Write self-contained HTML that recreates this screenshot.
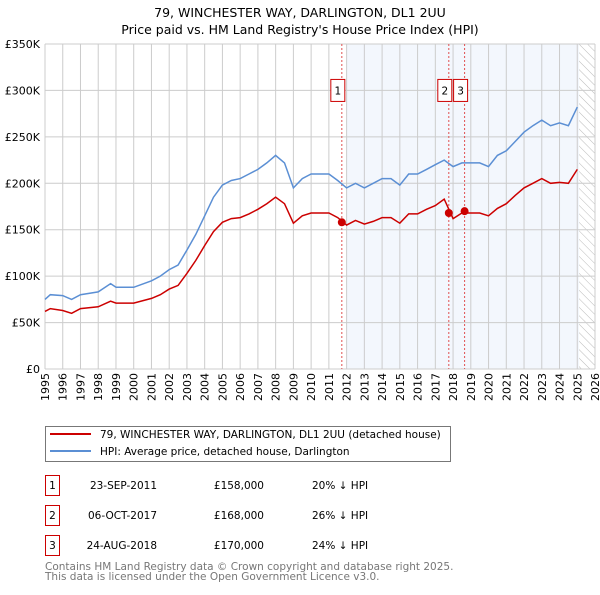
<!DOCTYPE html>
<html><head><meta charset="utf-8"><style>
body{margin:0;background:#fff;font-family:"Liberation Sans","DejaVu Sans",sans-serif;}
</style></head><body>
<svg width="600" height="590" xmlns="http://www.w3.org/2000/svg" font-family="DejaVu Sans, Liberation Sans, sans-serif">
<text x="300" y="17" text-anchor="middle" font-size="12.5">79, WINCHESTER WAY, DARLINGTON, DL1 2UU</text>
<text x="300" y="34" text-anchor="middle" font-size="12.5">Price paid vs. HM Land Registry's House Price Index (HPI)</text>
<defs><pattern id="hatch" width="6" height="6" patternUnits="userSpaceOnUse" patternTransform="rotate(-45)"><line x1="0" y1="0" x2="0" y2="6" stroke="#bbb" stroke-width="1"/></pattern></defs>
<g id="plot"></g>
<g>
<rect x="45.5" y="426.5" width="405" height="35" fill="#fff" stroke="#777"/>
<line x1="50" y1="434" x2="91" y2="434" stroke="#cc0000" stroke-width="2"/>
<text x="100" y="438" font-size="10.5">79, WINCHESTER WAY, DARLINGTON, DL1 2UU (detached house)</text>
<line x1="50" y1="451" x2="91" y2="451" stroke="#5b8fd4" stroke-width="2"/>
<text x="100" y="455" font-size="10.5">HPI: Average price, detached house, Darlington</text>
</g>
<g font-size="10.5">
<rect x="45.5" y="475.5" width="14" height="20" fill="#fff" stroke="#cc0000"/><text x="52.5" y="489" text-anchor="middle">1</text>
<text x="157" y="489" text-anchor="end">23-SEP-2011</text><text x="264" y="489" text-anchor="end">£158,000</text><text x="312" y="489">20% ↓ HPI</text>
<rect x="45.5" y="505.5" width="14" height="20" fill="#fff" stroke="#cc0000"/><text x="52.5" y="519" text-anchor="middle">2</text>
<text x="157" y="519" text-anchor="end">06-OCT-2017</text><text x="264" y="519" text-anchor="end">£168,000</text><text x="312" y="519">26% ↓ HPI</text>
<rect x="45.5" y="535.5" width="14" height="20" fill="#fff" stroke="#cc0000"/><text x="52.5" y="549" text-anchor="middle">3</text>
<text x="157" y="549" text-anchor="end">24-AUG-2018</text><text x="264" y="549" text-anchor="end">£170,000</text><text x="312" y="549">24% ↓ HPI</text>
</g>
<text x="45" y="570" font-size="10.5" fill="#777">Contains HM Land Registry data © Crown copyright and database right 2025.</text>
<text x="45" y="580" font-size="10.5" fill="#777">This data is licensed under the Open Government Licence v3.0.</text>
</svg>
<script>
const years=[1995,1995.3,1996,1996.5,1997,1998,1998.7,1999,2000,2001,2001.5,2002,2002.5,2003,2003.5,2004,2004.5,2005,2005.5,2006,2006.5,2007,2007.5,2008,2008.5,2009,2009.5,2010,2010.5,2011,2011.5,2012,2012.5,2013,2013.5,2014,2014.5,2015,2015.5,2016,2016.5,2017,2017.5,2018,2018.5,2019,2019.5,2020,2020.5,2021,2021.5,2022,2022.5,2023,2023.5,2024,2024.5,2025];
const hpiValues=[75,80,79,75,80,83,92,88,88,95,100,107,112,128,145,165,185,198,203,205,210,215,222,230,222,195,205,210,210,210,203,195,200,195,200,205,205,198,210,210,215,220,225,218,222,222,222,218,230,235,245,255,262,268,262,265,262,282];
const priceValues=[62,65,63,60,65,67,73,71,71,76,80,86,90,103,117,133,148,158,162,163,167,172,178,185,178,157,165,168,168,168,163,155,160,156,159,163,163,157,167,167,172,176,183,162,168,168,168,165,173,178,187,195,200,205,200,201,200,215];
const saleYears=[2011.73,2017.76,2018.65];
const salePrices=[158,168,170];
const saleLabels=["1","2","3"];
const yTicks=[0,50,100,150,200,250,300,350];
const yTickLabels=["£0","£50K","£100K","£150K","£200K","£250K","£300K","£350K"];
const x0=45,x1=595,yr0=1995,yr1=2026,yb=369,yt=44;
const X=y=>x0+(y-yr0)/(yr1-yr0)*(x1-x0);
const Y=v=>yb-v/350*(yb-yt);
const ns="http://www.w3.org/2000/svg",g=document.getElementById('plot');
function mk(t,a,p){const e=document.createElementNS(ns,t);for(const k in a)e.setAttribute(k,a[k]);(p||g).appendChild(e);return e;}
let e;
e=mk('rect',{x:X(2012),y:yt,width:X(2025.1)-X(2012),height:yb-yt,fill:'#eef3fc',opacity:0.7});


e=mk('rect',{x:X(2025.1),y:yt,width:X(2026)-X(2025.1),height:yb-yt,fill:'url(#hatch)'});


for(let y=yr0;y<=yr1;y++){
 e=mk('line',{x1:X(y),y1:yt,x2:X(y),y2:yb,stroke:'#ccc','stroke-width':1});
 
 
 e=mk('text',{x:0,y:0,'font-size':11,'text-anchor':'end',transform:`translate(${X(y)+4},${yb+4}) rotate(-90)`});
 e.textContent=y;
 
 
}
yTicks.forEach((v,i)=>{
 e=mk('line',{x1:x0,y1:Y(v),x2:x1,y2:Y(v),stroke:'#ccc','stroke-width':1});
 
 
 e=mk('text',{x:x0-5,y:Y(v)+4,'font-size':11,'text-anchor':'end'});
 e.textContent=yTickLabels[i];
 
 
});
saleYears.forEach((sy,i)=>{
 e=mk('line',{x1:X(sy),y1:yt,x2:X(sy),y2:yb,stroke:'#e05050','stroke-width':1,'stroke-dasharray':'2,2'});
 
 
});
function path(vals,col,name){
 const d=years.map((y,i)=>(i?'L':'M')+X(y).toFixed(1)+','+Y(vals[i]).toFixed(1)).join('');
 e=mk('path',{d:d,fill:'none',stroke:col,'stroke-width':1.5});
 
 
}
path(hpiValues,'#5b8fd4','hpi-line');
path(priceValues,'#cc0000','price-paid-line');
saleYears.forEach((sy,i)=>{
 e=mk('circle',{cx:X(sy),cy:Y(salePrices[i]),r:4,fill:'#cc0000'});
 
 
 const lx=X(sy)-11;
 e=mk('rect',{x:lx,y:Y(300)-11,width:14,height:22,fill:'#fff',stroke:'#cc0000'});
 
 
 e=mk('text',{x:lx+7,y:Y(300)+4,'font-size':10.5,'text-anchor':'middle'});
 e.textContent=saleLabels[i];
 
 
});
</script>
</body></html>
